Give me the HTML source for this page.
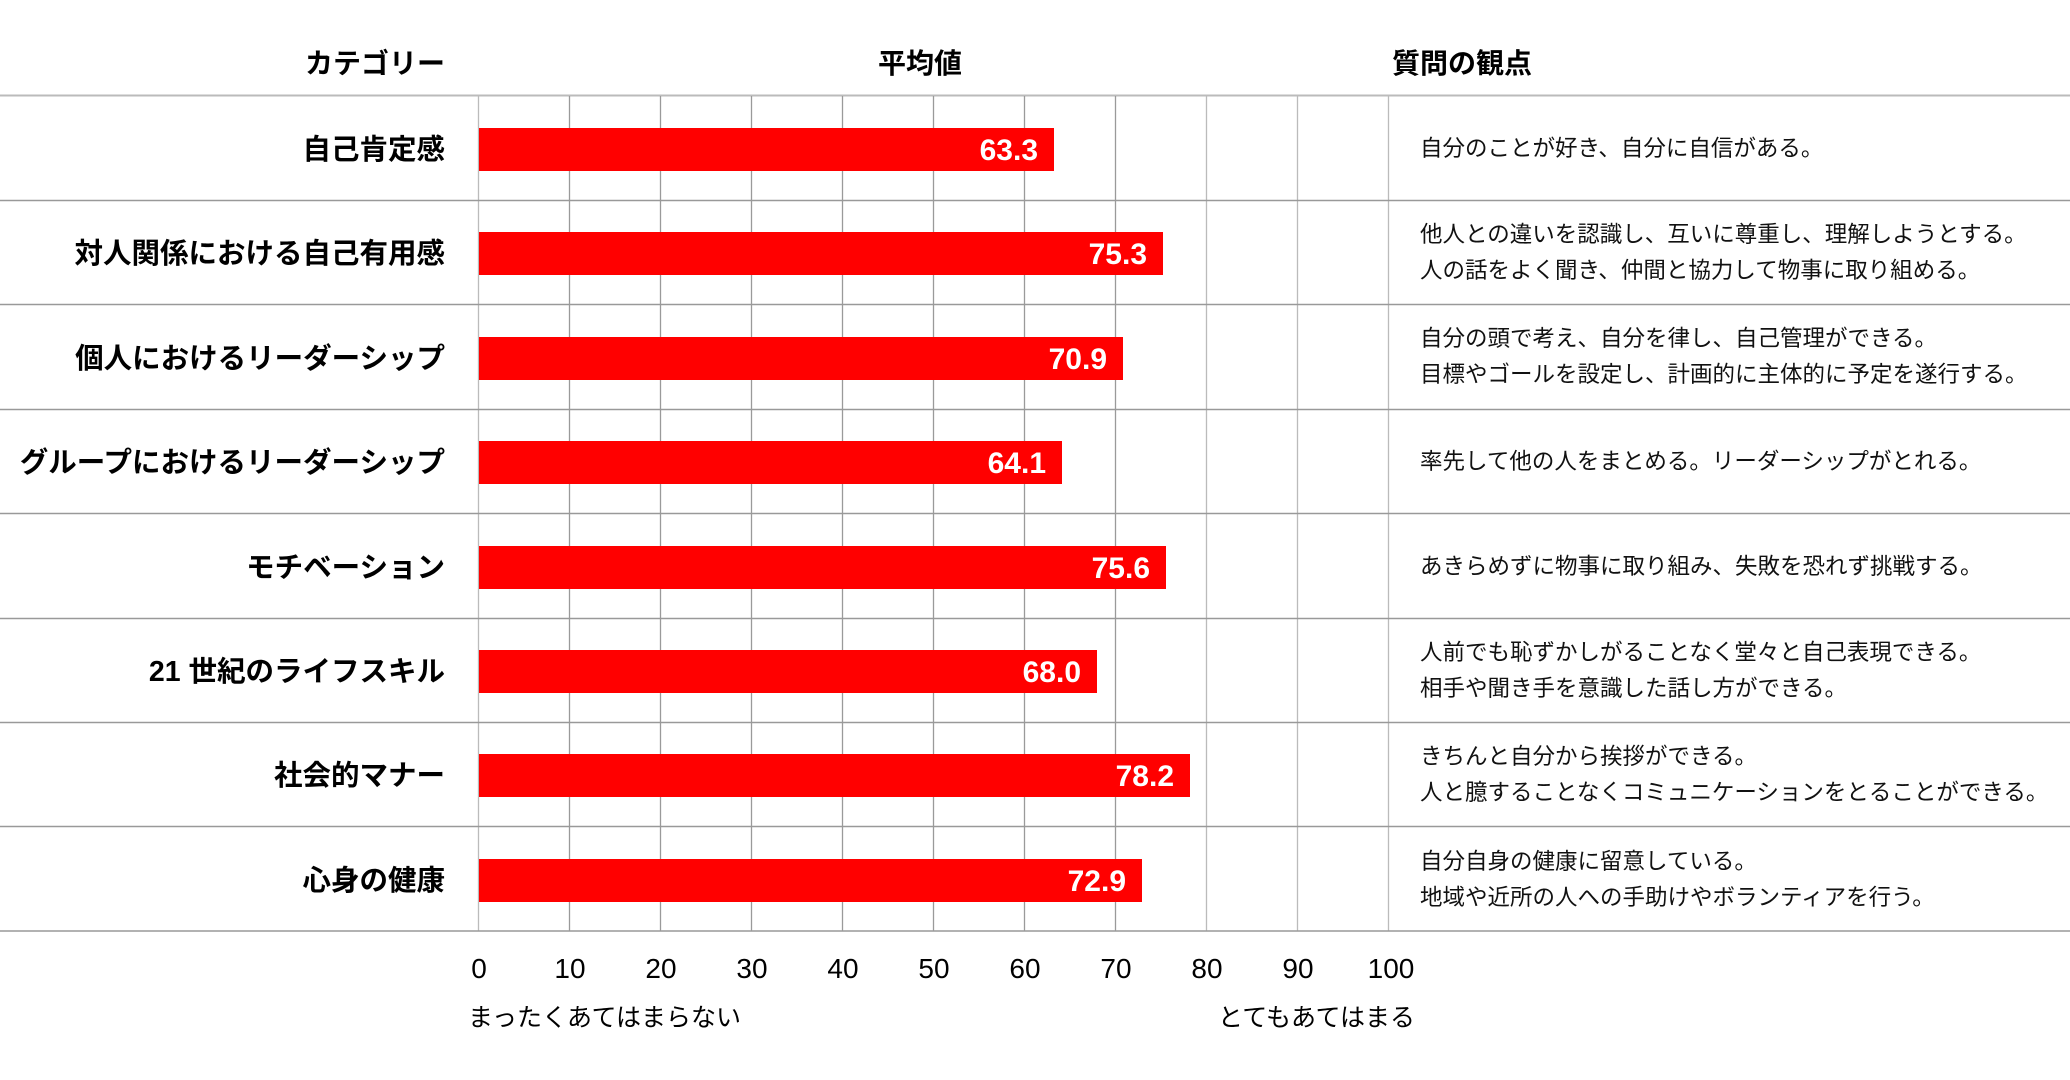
<!DOCTYPE html>
<html><head><meta charset="utf-8"><style>
html,body{margin:0;padding:0;background:#fff;}
svg{display:block;}
.h{font-family:"Liberation Sans","Noto Sans CJK JP",sans-serif;font-weight:bold;font-size:28px;fill:#000;}
.c{font-family:"Liberation Sans","Noto Sans CJK JP",sans-serif;font-weight:bold;font-size:28.5px;fill:#000;}
.v{font-family:"Liberation Sans",sans-serif;font-weight:bold;font-size:30px;fill:#fff;}
.t{font-family:"Liberation Sans",sans-serif;font-size:28px;fill:#000;}
.d{font-family:"Liberation Sans","Noto Sans CJK JP",sans-serif;font-size:22.5px;fill:#111;}
.b{font-family:"Liberation Sans","Noto Sans CJK JP",sans-serif;font-size:25px;fill:#000;}
</style></head><body>
<svg width="2070" height="1080" viewBox="0 0 2070 1080" xmlns="http://www.w3.org/2000/svg">
<rect width="2070" height="1080" fill="#fff"/>
<text class="h" x="445" y="73" text-anchor="end">カテゴリー</text>
<text class="h" x="920" y="73" text-anchor="middle">平均値</text>
<text class="h" x="1462" y="73" text-anchor="middle">質問の観点</text>
<line x1="0" y1="95.5" x2="2070" y2="95.5" stroke="#bbb" stroke-width="2"/>
<g stroke="#9a9a9a" stroke-width="1.3">
<line x1="478.5" y1="96" x2="478.5" y2="931" stroke="#bbb"/>
<line x1="569.5" y1="96" x2="569.5" y2="931"/>
<line x1="660.5" y1="96" x2="660.5" y2="931"/>
<line x1="751.5" y1="96" x2="751.5" y2="931"/>
<line x1="842.5" y1="96" x2="842.5" y2="931"/>
<line x1="933.5" y1="96" x2="933.5" y2="931"/>
<line x1="1024.5" y1="96" x2="1024.5" y2="931"/>
<line x1="1115.5" y1="96" x2="1115.5" y2="931"/>
<line x1="1206.5" y1="96" x2="1206.5" y2="931" stroke="#bbb"/>
<line x1="1297.5" y1="96" x2="1297.5" y2="931" stroke="#bbb"/>
<line x1="1388.5" y1="96" x2="1388.5" y2="931" stroke="#bbb"/>
</g>
<g stroke="#999" stroke-width="1.5">
<line x1="0" y1="200.5" x2="2070" y2="200.5"/>
<line x1="0" y1="304.5" x2="2070" y2="304.5"/>
<line x1="0" y1="409.5" x2="2070" y2="409.5"/>
<line x1="0" y1="513.5" x2="2070" y2="513.5"/>
<line x1="0" y1="618.5" x2="2070" y2="618.5"/>
<line x1="0" y1="722.5" x2="2070" y2="722.5"/>
<line x1="0" y1="826.5" x2="2070" y2="826.5"/>
<line x1="0" y1="931" x2="2070" y2="931"/>
</g>
<g fill="#ff0000">
<rect x="479" y="128" width="575" height="43"/>
<rect x="479" y="232" width="684" height="43"/>
<rect x="479" y="337" width="644" height="43"/>
<rect x="479" y="441" width="583" height="43"/>
<rect x="479" y="546" width="687" height="43"/>
<rect x="479" y="650" width="618" height="43"/>
<rect x="479" y="754" width="711" height="43"/>
<rect x="479" y="859" width="663" height="43"/>
</g>
<g class="v" text-anchor="end">
<text x="1038" y="160">63.3</text>
<text x="1147" y="264">75.3</text>
<text x="1107" y="369">70.9</text>
<text x="1046" y="473">64.1</text>
<text x="1150" y="578">75.6</text>
<text x="1081" y="682">68.0</text>
<text x="1174" y="786">78.2</text>
<text x="1126" y="891">72.9</text>
</g>
<g class="c" text-anchor="end">
<text x="445" y="159">自己肯定感</text>
<text x="445" y="263">対人関係における自己有用感</text>
<text x="445" y="368">個人におけるリーダーシップ</text>
<text x="445" y="472">グループにおけるリーダーシップ</text>
<text x="445" y="577">モチベーション</text>
<text x="445" y="681">21 世紀のライフスキル</text>
<text x="445" y="785">社会的マナー</text>
<text x="445" y="890">心身の健康</text>
</g>
<g class="d">
<text x="1420" y="156">自分のことが好き、自分に自信がある。</text>
<text x="1420" y="242">他人との違いを認識し、互いに尊重し、理解しようとする。</text>
<text x="1420" y="278">人の話をよく聞き、仲間と協力して物事に取り組める。</text>
<text x="1420" y="346">自分の頭で考え、自分を律し、自己管理ができる。</text>
<text x="1420" y="382">目標やゴールを設定し、計画的に主体的に予定を遂行する。</text>
<text x="1420" y="469">率先して他の人をまとめる。リーダーシップがとれる。</text>
<text x="1420" y="574">あきらめずに物事に取り組み、失敗を恐れず挑戦する。</text>
<text x="1420" y="660">人前でも恥ずかしがることなく堂々と自己表現できる。</text>
<text x="1420" y="696">相手や聞き手を意識した話し方ができる。</text>
<text x="1420" y="764">きちんと自分から挨拶ができる。</text>
<text x="1420" y="800">人と臆することなくコミュニケーションをとることができる。</text>
<text x="1420" y="869">自分自身の健康に留意している。</text>
<text x="1420" y="905">地域や近所の人への手助けやボランティアを行う。</text>
</g>
<g class="t" text-anchor="middle">
<text x="479" y="978">0</text>
<text x="570" y="978">10</text>
<text x="661" y="978">20</text>
<text x="752" y="978">30</text>
<text x="843" y="978">40</text>
<text x="934" y="978">50</text>
<text x="1025" y="978">60</text>
<text x="1116" y="978">70</text>
<text x="1207" y="978">80</text>
<text x="1298" y="978">90</text>
<text x="1391" y="978">100</text>
</g>
<text class="b" x="468" y="1026">まったくあてはまらない</text>
<text class="b" x="1415" y="1026" text-anchor="end">とてもあてはまる</text>
</svg>
</body></html>
